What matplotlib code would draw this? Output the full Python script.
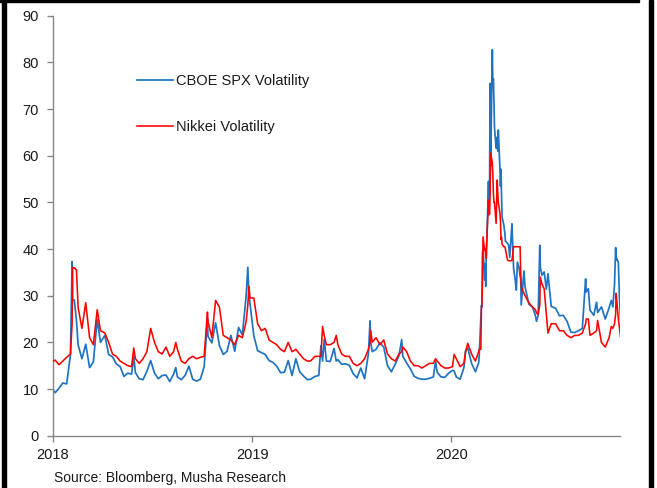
import matplotlib
matplotlib.use("Agg")
import matplotlib.pyplot as plt
import matplotlib.dates as mdates
from matplotlib.patches import Rectangle
import pandas as pd

plt.rcParams['font.family'] = ['Liberation Sans', 'DejaVu Sans']

dates = [
    "2018-01-02", "2018-01-05", "2018-01-12", "2018-01-19", "2018-01-26", "2018-02-02", "2018-02-05",
    "2018-02-06", "2018-02-09", "2018-02-13", "2018-02-16", "2018-02-23", "2018-03-02", "2018-03-09",
    "2018-03-16", "2018-03-23", "2018-03-29", "2018-04-06", "2018-04-13", "2018-04-20", "2018-04-27",
    "2018-05-04", "2018-05-11", "2018-05-18", "2018-05-25", "2018-05-29", "2018-06-01", "2018-06-08",
    "2018-06-15", "2018-06-22", "2018-06-29", "2018-07-06", "2018-07-13", "2018-07-20", "2018-07-27",
    "2018-08-03", "2018-08-10", "2018-08-14", "2018-08-17", "2018-08-24", "2018-08-31", "2018-09-07",
    "2018-09-14", "2018-09-21", "2018-09-28", "2018-10-05", "2018-10-11", "2018-10-12", "2018-10-19",
    "2018-10-26", "2018-11-02", "2018-11-09", "2018-11-16", "2018-11-23", "2018-11-30", "2018-12-07",
    "2018-12-14", "2018-12-21", "2018-12-24", "2018-12-26", "2018-12-28",
    "2019-01-04", "2019-01-11", "2019-01-18", "2019-01-25", "2019-02-01", "2019-02-08", "2019-02-15",
    "2019-02-22", "2019-03-01", "2019-03-08", "2019-03-15", "2019-03-22", "2019-03-29", "2019-04-05",
    "2019-04-12", "2019-04-18", "2019-04-26", "2019-05-03", "2019-05-07", "2019-05-10", "2019-05-13",
    "2019-05-17", "2019-05-24", "2019-05-31", "2019-06-04", "2019-06-07", "2019-06-14", "2019-06-21",
    "2019-06-28", "2019-07-05", "2019-07-12", "2019-07-19", "2019-07-26", "2019-08-02", "2019-08-05",
    "2019-08-06", "2019-08-09", "2019-08-16", "2019-08-23", "2019-08-30", "2019-09-06", "2019-09-13",
    "2019-09-20", "2019-09-27", "2019-10-02", "2019-10-04", "2019-10-11", "2019-10-18", "2019-10-25",
    "2019-11-01", "2019-11-08", "2019-11-15", "2019-11-22", "2019-11-29", "2019-12-03", "2019-12-06",
    "2019-12-13", "2019-12-20", "2019-12-27",
    "2020-01-03", "2020-01-06", "2020-01-10", "2020-01-17", "2020-01-24", "2020-01-27", "2020-01-31",
    "2020-02-07", "2020-02-14", "2020-02-20", "2020-02-21", "2020-02-24", "2020-02-25", "2020-02-26",
    "2020-02-27", "2020-02-28", "2020-03-02", "2020-03-03", "2020-03-04", "2020-03-05", "2020-03-06",
    "2020-03-09", "2020-03-10", "2020-03-11", "2020-03-12", "2020-03-13", "2020-03-16", "2020-03-17",
    "2020-03-18", "2020-03-19", "2020-03-20", "2020-03-23", "2020-03-24", "2020-03-25", "2020-03-26",
    "2020-03-27", "2020-03-30", "2020-03-31", "2020-04-01", "2020-04-02", "2020-04-03", "2020-04-06",
    "2020-04-08", "2020-04-09", "2020-04-13", "2020-04-15", "2020-04-17", "2020-04-21", "2020-04-22",
    "2020-04-24", "2020-04-27", "2020-04-29", "2020-05-01", "2020-05-04", "2020-05-06", "2020-05-07",
    "2020-05-08", "2020-05-13", "2020-05-15", "2020-05-22", "2020-05-29", "2020-06-03", "2020-06-05",
    "2020-06-08", "2020-06-11", "2020-06-12", "2020-06-15", "2020-06-19", "2020-06-23", "2020-06-26",
    "2020-07-02", "2020-07-10", "2020-07-17", "2020-07-24", "2020-07-31", "2020-08-07", "2020-08-14",
    "2020-08-21", "2020-08-28", "2020-09-03", "2020-09-04", "2020-09-08", "2020-09-11", "2020-09-18",
    "2020-09-23", "2020-09-25", "2020-10-02", "2020-10-09", "2020-10-16", "2020-10-20", "2020-10-23",
    "2020-10-26", "2020-10-28", "2020-10-29", "2020-10-30", "2020-11-02", "2020-11-04", "2020-11-06",
]

spx_vol = [
    9.8, 9.2, 10.2, 11.3, 11.1, 17.3, 37.3,
    29.0, 29.1, 24.7, 19.5, 16.5, 19.6, 14.6,
    15.8, 24.9, 20.0, 21.5, 17.4, 16.9, 15.4,
    14.8, 12.7, 13.4, 13.2, 17.0, 13.5, 12.2,
    12.0, 13.8, 16.1, 13.4, 12.2, 12.9, 13.0,
    11.6, 13.2, 14.6, 12.6, 12.0, 12.9, 14.9,
    12.1, 11.7, 12.1, 14.8, 25.0, 21.3, 19.9,
    24.2, 19.3, 17.4, 18.1, 21.5, 18.1, 23.2,
    21.6, 30.1, 36.1, 30.4, 28.3,
    21.4, 18.2, 17.8, 17.4, 16.1, 15.7, 14.9,
    13.5, 13.6, 16.1, 12.9, 16.5, 13.7, 12.8,
    12.0, 12.1, 12.7, 12.9, 19.3, 16.0, 20.6,
    16.0, 15.9, 18.7, 16.0, 16.3, 15.3, 15.4,
    15.1, 13.3, 12.4, 14.5, 12.2, 17.6, 24.6,
    20.2, 18.0, 18.5, 19.9, 19.0, 15.0, 13.7,
    15.3, 17.2, 20.6, 17.0, 15.6, 14.3, 12.7,
    12.3, 12.1, 12.1, 12.3, 12.6, 16.0, 13.6,
    12.6, 12.5, 13.4,
    14.0, 13.9, 12.6, 12.1, 14.6, 18.2, 18.8,
    15.5, 13.7, 15.6, 17.1, 25.0, 27.9, 27.6,
    39.2, 40.1, 33.4, 36.8, 32.0, 39.6, 41.9,
    54.5, 47.3, 53.9, 75.5, 57.8, 82.7, 75.9,
    76.5, 72.0, 66.0, 61.6, 61.7, 64.0, 61.0,
    65.5, 57.1, 53.5, 57.1, 50.9, 46.8, 45.2,
    43.4, 41.7, 41.2, 40.8, 38.2, 45.4, 42.0,
    35.9, 33.3, 31.2, 37.2, 36.0, 34.1, 33.6,
    28.0, 35.3, 31.9, 28.2, 27.5, 25.7, 24.5,
    25.8, 40.8, 36.1, 34.4, 35.1, 31.4, 34.7,
    27.7, 27.3, 25.7, 25.8, 24.5, 22.2, 22.1,
    22.5, 23.0, 33.6, 30.8, 31.5, 26.9, 25.8,
    28.6, 26.4, 27.6, 25.0, 27.4, 29.0, 27.6,
    32.5, 40.3, 37.6, 38.0, 37.1, 29.6, 24.9,
]

nikkei_vol = [
    16.0, 16.2, 15.2, 16.0, 16.8, 17.5, 24.0,
    36.0, 36.0, 35.5, 27.5, 23.0, 28.5, 21.0,
    19.5, 27.0, 22.5, 22.0, 20.0, 17.5, 17.0,
    16.0, 15.5, 15.0, 14.8, 18.8, 16.5, 15.5,
    16.5, 18.0, 23.0, 20.0, 18.0, 17.5, 19.0,
    17.0, 18.0, 20.0, 18.5, 16.0, 15.5, 16.5,
    17.0, 16.5, 16.8, 17.0, 26.5, 24.5, 21.0,
    29.0, 27.5, 21.5, 21.0, 20.5, 19.5, 21.5,
    21.0, 24.5, 28.0, 32.0, 29.5,
    29.5, 24.0, 22.5, 23.0, 20.5, 20.0, 19.5,
    18.5, 18.0, 20.0, 18.0, 18.5, 17.5, 16.5,
    16.0, 16.0, 17.0, 17.0, 17.0, 23.4, 21.5,
    19.5, 19.5, 20.0, 21.5, 19.5, 17.5, 17.0,
    17.0, 15.5, 15.0, 15.5, 16.5, 18.5, 20.0,
    22.6, 20.0, 21.0, 19.5, 20.5, 17.5, 16.5,
    16.0, 17.5, 18.0, 19.0, 18.0, 16.0, 15.0,
    15.0, 14.5, 15.0, 15.5, 15.5, 16.5, 16.0,
    15.0, 14.5, 14.5,
    14.8, 17.4, 16.5, 14.8, 15.5, 18.0, 19.8,
    17.5, 16.0, 18.0, 18.5, 18.5, 27.0, 28.5,
    33.0, 42.6, 39.8, 40.0, 38.5, 38.0, 42.0,
    50.5, 48.0, 47.5, 52.0, 60.5, 58.5, 56.0,
    52.0, 50.0, 50.0, 45.5, 50.0, 54.8, 52.0,
    50.0, 47.7, 46.0, 42.0, 42.5, 41.0, 40.5,
    40.5, 40.0, 37.6, 37.5, 37.5, 37.5, 38.5,
    40.5, 40.5, 40.5, 40.5, 40.5, 40.5, 35.0,
    32.0, 30.5, 30.0, 28.5, 27.5, 27.0, 26.3,
    26.0, 28.0, 34.0, 32.5, 31.5, 26.0, 22.0,
    24.0, 24.0, 22.5, 22.5, 21.5, 21.0, 21.5,
    21.5, 22.0, 24.0, 25.0, 25.0, 21.5, 22.0,
    22.5, 24.7, 20.0, 19.0, 21.0, 23.4, 23.0,
    24.0, 26.0, 30.5, 29.0, 25.0, 23.0, 21.2,
]

y_ticks = [0, 10, 20, 30, 40, 50, 60, 70, 80, 90]
series_labels = ["CBOE SPX Volatility", "Nikkei Volatility"]
source_text = "Source: Bloomberg, Musha Research"

W, H = 657, 488
fig = plt.figure(figsize=(W / 100, H / 100), dpi=100)
fig.patch.set_facecolor("white")

ax_left, ax_right, ax_top, ax_bottom = 53, 620, 15.7, 435.7
ax = fig.add_axes([ax_left / W, (H - ax_bottom) / H, (ax_right - ax_left) / W, (ax_bottom - ax_top) / H])

x = pd.to_datetime(dates)
ax.plot(x, spx_vol, color="#1f74c2", lw=1.25, label=series_labels[0], zorder=2)
ax.plot(x, nikkei_vol, color="#ff0000", lw=1.15, label=series_labels[1], zorder=3)

ax.set_ylim(0, 90)
ax.set_yticks(y_ticks)
ax.set_xlim(pd.Timestamp("2018-01-01"), pd.Timestamp("2020-11-05"))
ax.xaxis.set_major_locator(mdates.YearLocator())
ax.xaxis.set_major_formatter(mdates.DateFormatter("%Y"))

for s in ["top", "right"]:
    ax.spines[s].set_visible(False)
for s in ["left", "bottom"]:
    ax.spines[s].set_color("#868686")
    ax.spines[s].set_linewidth(1.0)
ax.tick_params(axis="both", direction="out", length=4, width=1, color="#868686",
               labelsize=10.5, labelcolor="#1a1a1a")
ax.tick_params(axis="y", pad=6)
ax.tick_params(axis="x", pad=5)

leg = ax.legend(loc="upper left", bbox_to_anchor=(0.148, 0.862), frameon=False,
                fontsize=10.5, handlelength=2.45, handletextpad=0.25,
                labelspacing=2.2, borderpad=0, borderaxespad=0)
for t in leg.get_texts():
    t.set_color("#1a1a1a")

fig.text(54 / W, 1 - 478 / H, source_text, fontsize=10, color="#1a1a1a",
         ha="left", va="center")

# screenshot frame
fig.patches.append(Rectangle((2 / W, 0), 4 / W, 1, transform=fig.transFigure,
                             color="black", zorder=10))
fig.patches.append(Rectangle((0, 1 - 2 / H), 639 / W, 2 / H, transform=fig.transFigure,
                             color="black", zorder=10))
fig.patches.append(Rectangle((649 / W, 0), 3.5 / W, 1, transform=fig.transFigure,
                             color="black", zorder=10))

fig.savefig("out.png", dpi=100)
